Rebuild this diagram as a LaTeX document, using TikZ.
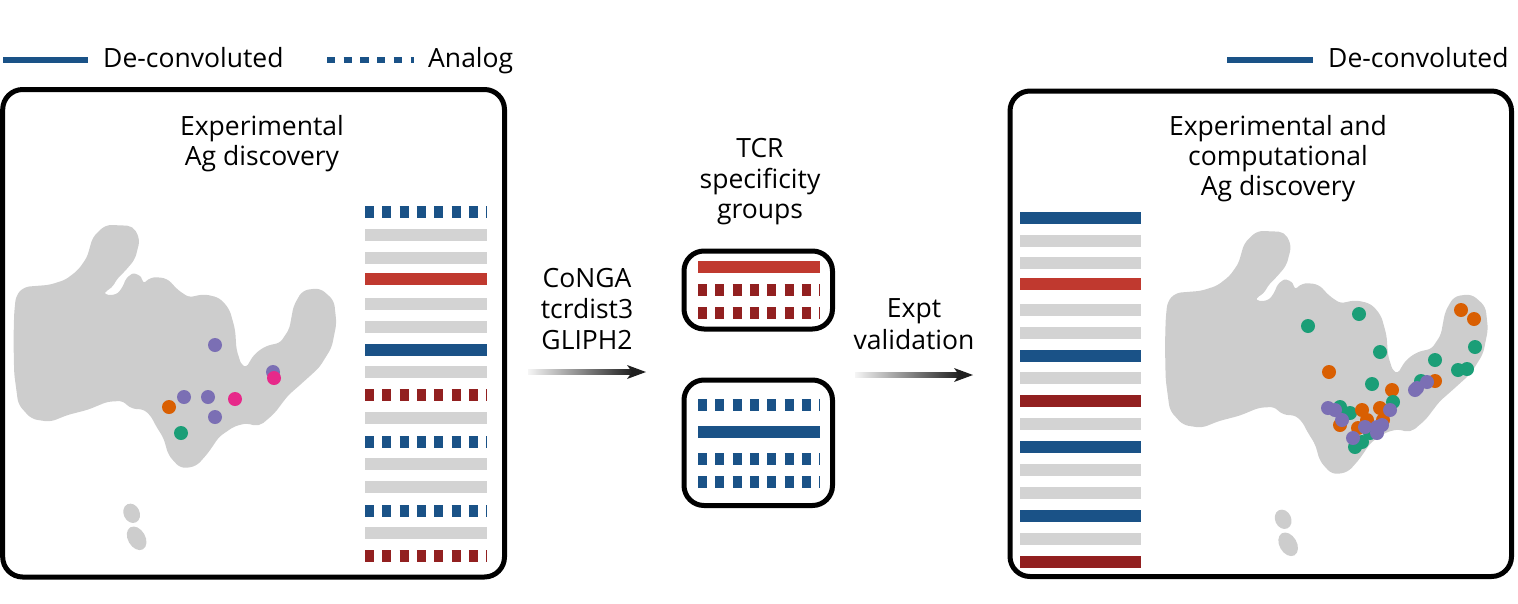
\documentclass[tikz,border=0pt]{standalone}
\usepackage{fontspec}
\setmainfont{Open Sans}
\definecolor{dblue}{HTML}{1A5287}
\definecolor{sred}{HTML}{C0392F}
\definecolor{dred}{HTML}{922020}
\definecolor{bgray}{HTML}{D3D3D3}
\definecolor{blobgray}{HTML}{CDCDCD}
\definecolor{dpurple}{HTML}{7B6FB4}
\definecolor{dorange}{HTML}{D95F02}
\definecolor{dgreen}{HTML}{1B9E77}
\definecolor{dpink}{HTML}{E7298A}
\begin{document}
\begin{tikzpicture}[x=1pt,y=-1pt,
  lbl/.style={font=\fontsize{26.5}{31}\selectfont, inner sep=0pt, anchor=base},
  lbll/.style={lbl, anchor=base west},
  panel/.style={line width=5pt, rounded corners=20pt},
  bar/.style={line width=12pt},
  dashbar/.style={line width=12pt, dash pattern=on 9pt off 8.33pt},
  legline/.style={line width=6pt},
  legdash/.style={line width=6pt, dash pattern=on 8.3pt off 8.4pt},
  bdash/.style={dashbar, draw=dblue},
  rdash/.style={dashbar, draw=dred},
  gbar/.style={bar, draw=bgray},
  rsolid/.style={bar, draw=sred},
  bsolid/.style={bar, draw=dblue},
  dsolid/.style={bar, draw=dred},
]
\useasboundingbox (0,0) rectangle (1518,603);

% ---------- legends ----------
\draw[legline, dblue] (3,60) -- (88,60);
\node[lbll] (lg1) at (103,67) {De-convoluted};
\draw[legdash, dblue] (327,60) -- (414,60);
\node[lbll] (lg2) at (428,67) {Analog};
\draw[legline, dblue] (1227,60) -- (1313,60);
\node[lbll] (lg3) at (1328,67) {De-convoluted};

% ---------- blob macro ----------
\newcommand{\umapblob}{%
  \fill[blobgray, draw=blobgray, line width=5pt, line join=round, rounded corners=5pt]
    (55,320) -- (75,298) -- (150,292) -- (200,276) -- (240,245) -- (268,205)
    -- (285,145) -- (320,112) -- (395,115) -- (412,150) -- (398,205)
    -- (368,240) -- (345,262) -- (330,290) -- (305,300) -- (308,322)
    -- (352,322) -- (372,300) -- (388,262) -- (412,255) -- (422,278)
    -- (430,292) -- (455,268) -- (498,272) -- (528,305) -- (565,330)
    -- (612,320) -- (655,330) -- (682,362) -- (698,420) -- (702,480)
    -- (718,530) -- (742,542) -- (768,498) -- (800,475) -- (845,465)
    -- (875,420) -- (888,350) -- (912,308) -- (958,302) -- (995,335)
    -- (1002,400) -- (988,470) -- (952,528) -- (900,575) -- (858,612)
    -- (818,665) -- (775,702) -- (740,692) -- (700,702) -- (652,735)
    -- (618,785) -- (585,822) -- (545,828) -- (512,792) -- (498,742)
    -- (472,700) -- (458,672) -- (432,650) -- (398,650) -- (370,625)
    -- (320,628) -- (262,652) -- (200,668) -- (150,688) -- (98,680)
    -- (62,640) -- (50,550) -- (48,450) -- (50,370) -- cycle;
  \fill[blobgray, rotate around={25:(395,970)}] (395,970) ellipse (24 and 30);
  \fill[blobgray, rotate around={30:(410,1045)}] (410,1045) ellipse (26 and 38);
}

% ---------- left panel ----------
\draw[panel] (2.7,89.5) rectangle (504.5,577);
\node[lbl] (lt1) at (262,135) {Experimental};
\node[lbl] (lt2) at (262,165) {Ag discovery};
\begin{scope}[shift={(0,190)}, x=0.3333pt, y=-0.3333pt]
  \umapblob
\end{scope}
\foreach \xx/\yy/\cc in {215/345/dpurple, 273/372/dpurple, 274/378/dpink,
  235/399/dpink, 184/397/dpurple, 208/397/dpurple, 169/407/dorange,
  215/417/dpurple, 181/433/dgreen}{
  \fill[\cc] (\xx,\yy) circle (7);
}

\foreach \yy/\st in {212.3/bdash, 235/gbar, 257.7/gbar, 278.5/rsolid, 303.8/gbar,
  326.7/gbar, 350/bsolid, 372.3/gbar, 395/rdash, 418.3/gbar, 441.7/bdash,
  464/gbar, 487/gbar, 510.7/bdash, 533.3/gbar, 555.7/rdash}{
  \draw[\st] (365,\yy) -- (487,\yy);
}

% ---------- middle ----------
\node[lbl] (m1) at (587,287) {CoNGA};
\node[lbl] (m2) at (587,318) {tcrdist3};
\node[lbl] (m3) at (587,349) {GLIPH2};
\node[lbl] (t1) at (760,157) {TCR};
\node[lbl] (t2) at (760,188) {specificity};
\node[lbl] (t3) at (760,218) {groups};
\node[lbl] (e1) at (914,317) {Expt};
\node[lbl] (e2) at (914,349) {validation};

\coordinate (a1s) at (528,372);
\coordinate (a1e) at (646,372);
\shade[left color=black!4, right color=black!88] (528,369.5) rectangle (633,374.5);
\fill[black!88] (627,365) -- (a1e) -- (627,379) -- (632,372) -- cycle;
\coordinate (a2s) at (855,375);
\coordinate (a2e) at (973,375);
\shade[left color=black!4, right color=black!88] (855,372.5) rectangle (960,377.5);
\fill[black!88] (954,368) -- (a2e) -- (954,382) -- (959,375) -- cycle;

\draw[panel] (684,251) rectangle (832.5,329);
\draw[rsolid] (698,267) -- (819.5,267);
\draw[rdash] (698,290) -- (819.5,290);
\draw[rdash] (698,313) -- (819.5,313);

\draw[panel] (684,380) rectangle (832.5,505.5);
\draw[bdash] (698,405) -- (819.5,405);
\draw[bsolid] (698,432) -- (819.5,432);
\draw[bdash] (698,459) -- (819.5,459);
\draw[bdash] (698,482) -- (819.5,482);

% ---------- right panel ----------
\draw[panel] (1010,91) rectangle (1511.5,576.5);
\node[lbl] (r1) at (1278,135) {Experimental and};
\node[lbl] (r2) at (1278,165) {computational};
\node[lbl] (r3) at (1278,195) {Ag discovery};
\begin{scope}[shift={(1151.5,196)}, x=0.3333pt, y=-0.3333pt]
  \umapblob
\end{scope}
\foreach \yy/\st in {218/bsolid, 241/gbar, 263/gbar, 284/rsolid, 310/gbar,
  333/gbar, 356/bsolid, 378/gbar, 401/dsolid, 424/gbar, 447/bsolid,
  470/gbar, 493/gbar, 516/bsolid, 539/gbar, 562/dsolid}{
  \draw[\st] (1020,\yy) -- (1141,\yy);
}
\foreach \xx/\yy/\cc in {1308/326/dgreen, 1359/314/dgreen, 1380/352/dgreen,
  1329/372/dorange, 1372/384/dgreen, 1392/390/dorange, 1393/402/dgreen,
  1461/310/dorange, 1474/319/dorange, 1475/347/dgreen, 1435/360/dgreen,
  1458/370/dgreen, 1467/369/dgreen, 1435/381/dorange, 1421/381/dgreen,
  1427/382/dpurple, 1417/388/dpurple, 1415/390/dpurple,
  1340/407/dgreen, 1350/413/dgreen, 1340/425/dorange, 1362/410/dorange,
  1380/408/dorange, 1367/420/dorange, 1383/420/dorange, 1358/428/dorange,
  1370/433/dgreen, 1362/442/dgreen, 1355/447/dgreen,
  1328/408/dpurple, 1335/410/dpurple, 1342/420/dpurple, 1390/410/dpurple,
  1365/427/dpurple, 1377/427/dpurple, 1382/425/dpurple, 1377/433/dpurple,
  1353/438/dpurple}{
  \fill[\cc] (\xx,\yy) circle (7);
}
\end{tikzpicture}
\end{document}
